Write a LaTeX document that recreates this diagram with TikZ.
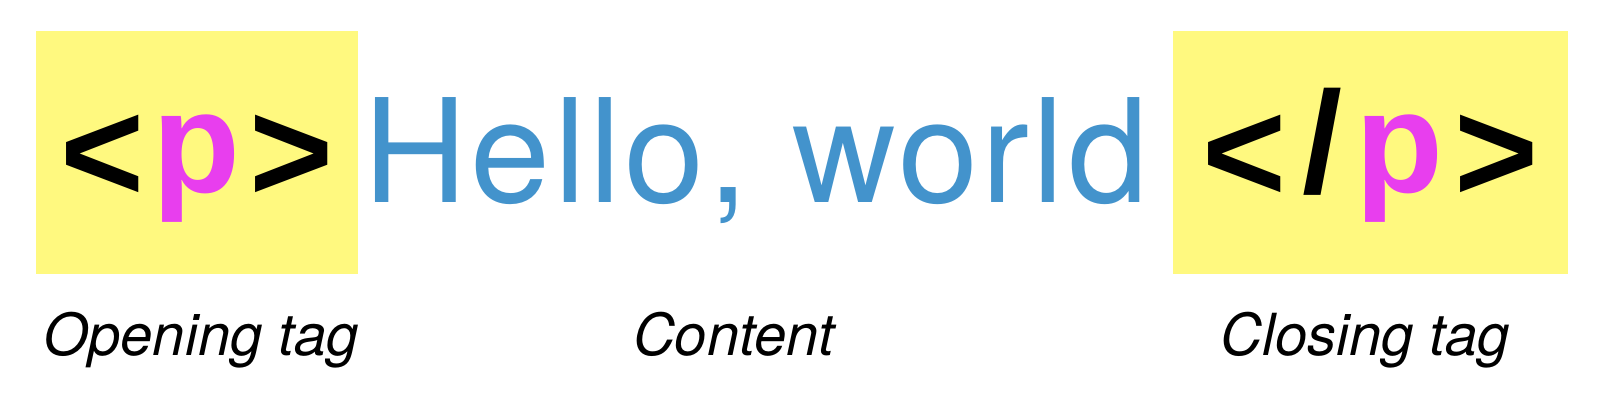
\documentclass[tikz,border=0pt]{standalone}
\usepackage{fontspec}
\setmainfont{TeX Gyre Heros}
\newfontfamily\hellofont[LetterSpace=2.4]{TeX Gyre Heros}
\newfontfamily\tagfont{Liberation Sans Bold}
\usetikzlibrary{positioning}
\definecolor{tagyellow}{RGB}{255,249,127}
\definecolor{tagpink}{RGB}{232,62,238}
\definecolor{textblue}{RGB}{67,147,204}
% angle brackets sit a little lower than the font puts them
\newcommand{\lowbr}[1]{\raisebox{-9pt}{#1}}
\newcommand{\tagp}{\textcolor{tagpink}{p}}

\begin{document}
\begin{tikzpicture}[x=1pt, y=-1pt, tagbox/.style={fill=tagyellow, inner sep=0pt, minimum height=243pt, text height=109pt, text depth=30pt, font=\tagfont\fontsize{144}{144}\selectfont}, content/.style={inner sep=0pt, anchor=base west, text=textblue, font=\hellofont\fontsize{144}{144}\selectfont}, lbl/.style={inner sep=0pt, anchor=base, font=\itshape\fontsize{58}{58}\selectfont}]
        \useasboundingbox (0,0) rectangle (1608,412);
        \node[tagbox, minimum width=322pt] (open) at (197,152.5) {\lowbr{<}\kern8pt\tagp\kern9pt\lowbr{>}};
        \node[tagbox, minimum width=395pt] (close) at (1370.5,152.5) {\lowbr{<}\kern16pt/\kern13pt\tagp\kern11pt\lowbr{>}};
        \node[content] (hello) at (363,202) {Hello, world};
        \node[lbl] (openlbl) at (201,355) {Opening tag};
        \node[lbl] (hellolbl) at (734,355) {Content};
        \node[lbl] (closelbl) at (1365,355) {Closing tag};
    \end{tikzpicture}
\end{document}
